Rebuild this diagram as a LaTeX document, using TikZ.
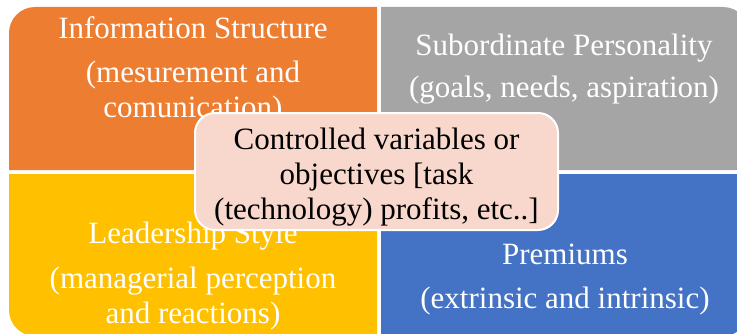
\documentclass[tikz,border=0pt]{standalone}
\usepackage{fontspec}
\setmainfont{Liberation Serif}

\definecolor{infoorange}{RGB}{237,125,49}
\definecolor{persgray}{RGB}{165,165,165}
\definecolor{leadyellow}{RGB}{255,192,0}
\definecolor{premblue}{RGB}{68,114,196}
\definecolor{ctrlpink}{RGB}{248,216,204}

\tikzset{
	quadtext/.style={text=white, align=center, inner sep=0pt, anchor=base,
		font=\fontsize{31}{35}\selectfont},
	ctrlbox/.style={fill=ctrlpink, draw=white, line width=2pt, rounded corners=20pt,
		minimum width=363pt, minimum height=117pt},
	ctrltext/.style={align=center, inner sep=0pt, font=\fontsize{31}{35}\selectfont}
}

\begin{document}
\begin{tikzpicture}[x=1pt,y=1pt]
	\useasboundingbox (0,0) rectangle (737,333);
	% four quadrants, only the outer corner is rounded
	\fill[infoorange] (377,163) -- (9,163) -- (9,300) arc[start angle=180,end angle=90,radius=26] -- (377,326) -- cycle;
	\fill[persgray] (381,163) -- (381,326) -- (723,326) arc[start angle=90,end angle=0,radius=26] -- (749,163) -- cycle;
	\fill[leadyellow] (377,159) -- (377,-3) -- (35,-3) arc[start angle=270,end angle=180,radius=26] -- (9,159) -- cycle;
	\fill[premblue] (381,159) -- (749,159) -- (749,23) arc[start angle=0,end angle=-90,radius=26] -- (381,-3) -- cycle;
	% quadrant labels (anchored on the last line)
	\node[quadtext] (info) at (193,216) {Information Structure\\[9pt](mesurement and\\comunication)};
	\node[quadtext] (pers) at (564,236) {Subordinate Personality\\[7pt](goals, needs, aspiration)};
	\node[quadtext] (lead) at (193,10) {Leadership Style\\[10pt](managerial perception\\and reactions)};
	\node[quadtext] (prem) at (565,25) {Premiums\\[9pt](extrinsic and intrinsic)};
	% box in the middle
	\node[ctrlbox] (ctrl) at (376.5,161.5) {};
	\node[ctrltext] (ctrltxt) at ([yshift=-6pt]ctrl.center) {Controlled variables or\\objectives [task\\(technology) profits, etc..]};
\end{tikzpicture}
\end{document}
